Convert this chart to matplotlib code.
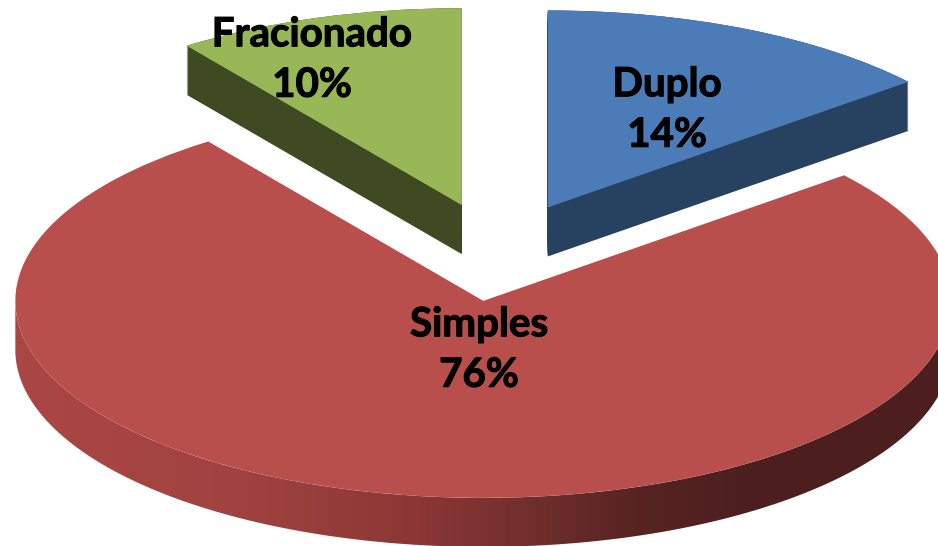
import numpy as np
import matplotlib
matplotlib.use('Agg')
import matplotlib.pyplot as plt
import matplotlib.patheffects as pe
from matplotlib.colors import LinearSegmentedColormap
from matplotlib.patches import Polygon

labels = ['Fracionado', 'Simples', 'Duplo']
values = [10, 76, 14]
top_colors = ['#98b757', '#b94f4c', '#4c7cb7']
side_colors = ['#3f4a22', '#4c1f1e', '#274161']

# pixel geometry of the pie in the picture
W, H = 938, 546
cx, cy = 498, 252
rx, ry = 468, 197
depth = 49 / ry
explode = [0.25, 0.25, 0.25]


def px(x, y):
    return (x - cx) / rx, (cy - y) / ry


fig = plt.figure(figsize=(W / 100, H / 100), dpi=100)
ax = fig.add_axes([0, 0, 1, 1])

# side walls: same pie stacked downwards
for d in np.linspace(depth, 0, 50):
    wedges, _ = ax.pie(values, explode=explode, startangle=90, colors=side_colors,
                       center=(0, -d), wedgeprops={'linewidth': 0})
    wedges[1].set_visible(False)

# red wall has a gradient from left to right
top_wedges, _ = ax.pie(values, explode=explode, startangle=90, colors=top_colors,
                       wedgeprops={'linewidth': 0, 'zorder': 5})
red_cx, red_cy = top_wedges[1].center
t = np.radians(np.linspace(180, 360, 300))
lower = np.column_stack([red_cx + np.cos(t), red_cy + np.sin(t) - depth])
upper = np.column_stack([red_cx + np.cos(t), red_cy + np.sin(t)])[::-1]
wall = Polygon(np.vstack([lower, upper]), closed=True, transform=ax.transData,
               facecolor='none', edgecolor='none')
ax.add_patch(wall)
grad = LinearSegmentedColormap.from_list('wall', [
    (0.0, '#ab4744'), (0.25, '#a04340'), (0.45, '#8a3735'), (0.55, '#74302e'),
    (0.68, '#572422'), (0.8, '#4c1f1e'), (1.0, '#4c1f1e')])
x0, y1 = px(0, 0)
x1, y0 = px(W, H)
img = ax.imshow(np.linspace(0, 1, 512).reshape(1, -1), cmap=grad, aspect='auto',
                extent=(x0, x1, y0, y1), zorder=4)
img.set_clip_path(wall)

ax.set_aspect('auto')
ax.set_xlim(x0, x1)
ax.set_ylim(y0, y1)
ax.axis('off')

text_pos = [(312, 60), (479, 350), (667, 110)]
for name, v, (tx, ty) in zip(labels, values, text_pos):
    x, y = px(tx, ty)
    ax.text(x, y, f'{name}\n{v}%', ha='center', va='center', color='black',
            family='Lato', weight='bold', fontsize=29, linespacing=1.45, zorder=10,
            path_effects=[pe.withStroke(linewidth=0.8, foreground='black')])

fig.savefig('out.png', dpi=100)
